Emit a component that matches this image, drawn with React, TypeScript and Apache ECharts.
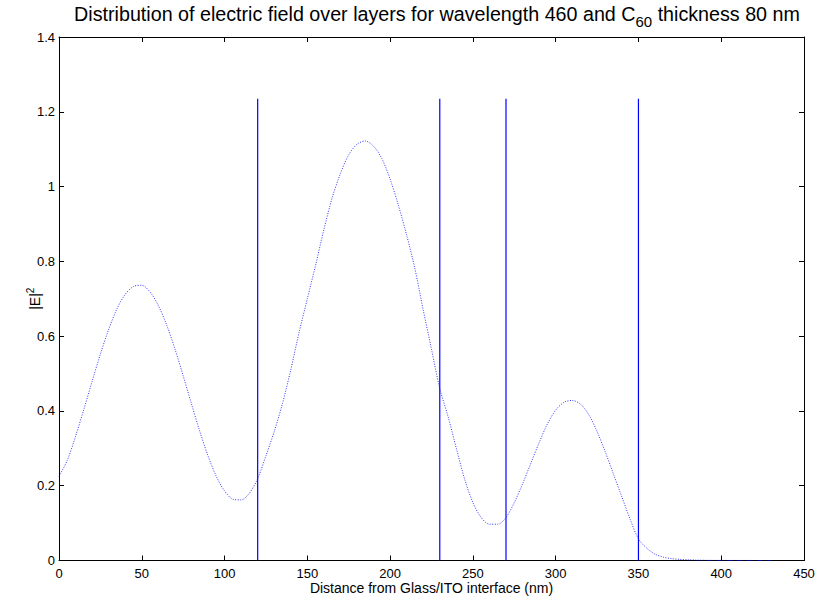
import React, { useEffect, useRef } from "react";
import * as echarts from "echarts";

// Distance from Glass/ITO interface (nm)
const positions = [
  0, 5, 10, 15, 20, 25, 30, 35, 40, 45, 50, 55, 60, 65, 70, 75, 80, 85, 90, 95, 100, 105, 110, 115, 120,
  125, 130, 135, 140, 145, 150, 155, 160, 165, 170, 175, 180, 185, 190, 195, 200, 205, 210, 215, 220, 225, 230,
  235, 240, 245, 250, 255, 260, 265, 270,
  275, 280, 285, 290, 295, 300, 305, 310, 315, 320, 325, 330, 335, 340, 345, 350,
  355, 360, 365, 370, 375, 380, 385, 390, 395, 400, 405, 410, 415, 420, 425, 430,
];
// |E|^2
const fieldSq = [
  0.225, 0.268, 0.332, 0.404, 0.479, 0.552, 0.618, 0.673, 0.712, 0.733, 0.736, 0.718, 0.682, 0.63, 0.566, 0.494, 0.419, 0.346, 0.28, 0.225, 0.186, 0.164, 0.162, 0.18, 0.219,
  0.28, 0.345, 0.42, 0.51, 0.61, 0.7, 0.79, 0.885, 0.97, 1.035, 1.085, 1.113, 1.122, 1.108, 1.075, 1.02, 0.95, 0.87, 0.78, 0.67, 0.565, 0.46,
  0.385, 0.3, 0.218, 0.155, 0.115, 0.097, 0.097, 0.115,
  0.155, 0.205, 0.26, 0.315, 0.365, 0.402, 0.423, 0.428, 0.418, 0.39, 0.345, 0.29, 0.23, 0.17, 0.11, 0.058,
  0.033, 0.017, 0.009, 0.005, 0.003, 0.002, 0.001, 0.0006, 0.0004, 0.0003, 0.0002, 0.0001, 0.0001, 0, 0, 0,
];
// layer interfaces (nm)
const interfaces = [120, 230, 270, 350];
const interfaceTop = 1.235;

const xTicks = { min: 0, max: 450, interval: 50 };
const yTicks = { min: 0, max: 1.4, interval: 0.2 };

const FONT = "'Liberation Sans', Arial, Helvetica, sans-serif";

export default function App() {
  const ref = useRef<HTMLDivElement>(null);
  useEffect(() => {
    if (!ref.current) return;
    const chart = echarts.init(ref.current, undefined, { renderer: "svg" });
    const axisLine = { show: true, onZero: false, lineStyle: { color: "#000", width: 1 } };
    const tick = { show: true, inside: true, length: 5, lineStyle: { color: "#000", width: 1 } };
    const curve = positions.map((x, i) => [x, fieldSq[i]]);
    chart.setOption({
      animation: false,
      backgroundColor: "#fff",
      title: {
        text: "{n|Distribution of electric field over layers for wavelength 460 and C}{s|60}{n| thickness 80 nm}",
        left: 432,
        textAlign: "center",
        top: -1,
        textStyle: {
          fontWeight: "normal",
          rich: {
            n: { fontFamily: FONT, fontSize: 19.7, fontWeight: "normal", color: "#000", lineHeight: 20, verticalAlign: "top" },
            s: { fontFamily: FONT, fontSize: 15, fontWeight: "normal", color: "#000", lineHeight: 20, padding: [10, 0, 0, 0], verticalAlign: "top" },
          },
        },
      },
      grid: { left: 59, right: 14, top: 37, bottom: 44.5, containLabel: false },
      xAxis: [
        {
          type: "value",
          ...xTicks,
          position: "bottom",
          axisLine,
          axisTick: tick,
          splitLine: { show: false },
          axisLabel: { fontFamily: FONT, fontSize: 13, color: "#000", margin: 6 },
          name: "Distance from Glass/ITO interface (nm)",
          nameLocation: "middle",
          nameGap: 20,
          nameMoveOverlap: false,
          nameTextStyle: { fontFamily: FONT, fontSize: 14, color: "#000" },
        },
        {
          type: "value",
          ...xTicks,
          position: "top",
          axisLine,
          axisTick: tick,
          splitLine: { show: false },
          axisLabel: { show: false },
        },
      ],
      yAxis: [
        {
          type: "value",
          ...yTicks,
          position: "left",
          axisLine,
          axisTick: tick,
          splitLine: { show: false },
          axisLabel: { fontFamily: FONT, fontSize: 13, color: "#000", margin: 4 },
          name: "{n||E|}{p|2}",
          nameLocation: "middle",
          nameGap: 17,
          nameMoveOverlap: false,
          nameRotate: 90,
          nameTextStyle: {
            rich: {
              n: { fontFamily: FONT, fontSize: 14, color: "#000", lineHeight: 18, verticalAlign: "bottom" },
              p: { fontFamily: FONT, fontSize: 10, color: "#000", lineHeight: 18, padding: [0, 0, 7, 0], verticalAlign: "bottom" },
            },
          },
        },
        {
          type: "value",
          ...yTicks,
          position: "right",
          axisLine,
          axisTick: tick,
          splitLine: { show: false },
          axisLabel: { show: false },
        },
      ],
      series: [
        {
          type: "line",
          data: curve,
          xAxisIndex: 0,
          yAxisIndex: 0,
          smooth: 0.3,
          showSymbol: false,
          symbol: "none",
          lineStyle: { color: "#0000ff", width: 0.8, type: [1, 1.5] },
          z: 3,
        },
        ...interfaces.map((x) => ({
          type: "line",
          data: [
            [x, 0],
            [x, interfaceTop],
          ],
          xAxisIndex: 0,
          yAxisIndex: 0,
          showSymbol: false,
          symbol: "none",
          lineStyle: { color: "#0000ff", width: 1.2 },
          z: 2,
        })),
      ],
    });
    return () => chart.dispose();
  }, []);
  return (
    <div
      ref={ref}
      style={{ position: "fixed", left: 0, top: 0, width: 818, height: 605, background: "#fff" }}
    />
  );
}
